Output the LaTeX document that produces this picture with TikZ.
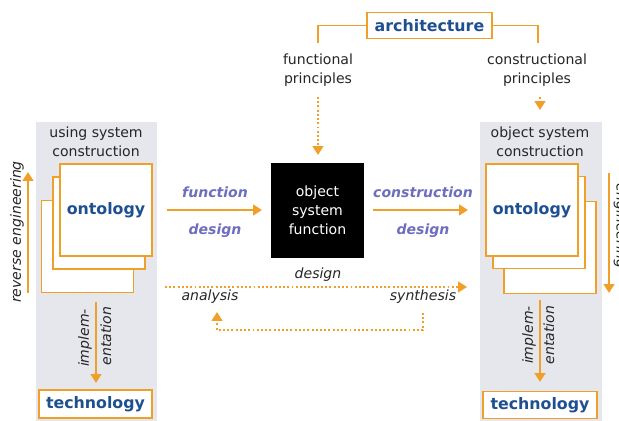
\documentclass[tikz,border=0pt]{standalone}
\usepackage{fontspec}
\setmainfont{DejaVu Sans}
\usetikzlibrary{arrows.meta, positioning}
\definecolor{orng}{RGB}{240,160,40}
\definecolor{darkblue}{RGB}{30,80,145}
\definecolor{lilac}{RGB}{110,110,190}
\definecolor{panelgray}{RGB}{229,231,237}
\tikzstyle{panel} = [fill=panelgray, inner sep=0]
\tikzstyle{sheet} = [draw=orng, fill=white, line width=0.6pt, minimum size=1.84cm, inner sep=0,
                     text=darkblue, font=\fontsize{9}{11}\selectfont\bfseries]
\tikzstyle{heading} = [draw=orng, fill=white, line width=0.8pt, inner sep=0,
                       text=darkblue, font=\fontsize{9}{11}\selectfont\bfseries]
\tikzstyle{caption} = [align=center, text=black!85, inner sep=0, font=\fontsize{8}{10.8}\selectfont]
\tikzstyle{design} = [text=lilac, inner sep=0, font=\fontsize{8}{10}\selectfont\bfseries\itshape]
\tikzstyle{verb} = [text=black!85, inner sep=0, font=\fontsize{8}{10}\selectfont\itshape]
\tikzstyle{flow} = [draw=orng, line width=1.2pt, -{Triangle[length=5pt, width=6pt]}]
\tikzstyle{dotflow} = [draw=orng, line width=1.1pt, dash pattern=on 1.1pt off 1.3pt,
                       -{Triangle[length=5pt, width=6pt]}]
\tikzstyle{link} = [draw=orng, line width=0.9pt]

\begin{document}
\begin{tikzpicture}[x=0.02cm, y=-0.02cm]
\useasboundingbox [fill=white] (0,0) rectangle (619,421);

% using system (left column)
\node (UsingPanel) [panel, minimum width=2.42cm, minimum height=6cm] at (96.5,272) {};
\node (UsingTitle) [caption] at (96,142) {using system\\construction};
\node (UsingBack) [sheet] at (87.5,246.5) {};
\node (UsingMid) [sheet] at (99,223) {};
\node (UsingFront) [sheet] at (106,210) {ontology};
\node (UsingTech) [heading, minimum width=2.26cm, minimum height=0.56cm] at (95.5,404) {technology};

\coordinate (ReverseFoot) at (28,293);
\coordinate (ReverseHead) at (28,172);
\draw [flow] (ReverseFoot) -- (ReverseHead);
\node (ReverseText) [verb, rotate=90] at (17,232) {reverse engineering};

\coordinate (UsingImplIn) at (96,302);
\coordinate (UsingImplOut) at (96,383);
\draw [flow] (UsingImplIn) -- (UsingImplOut);
\node (UsingImplA) [verb, rotate=90] at (85,338) {implem-};
\node (UsingImplB) [verb, rotate=90] at (106,336) {entation};

% object system (right column)
\node (ObjectPanel) [panel, minimum width=2.44cm, minimum height=6cm] at (541,272) {};
\node (ObjectTitle) [caption] at (540,142) {object system\\construction};
\node (ObjectBack) [sheet] at (550,247.5) {};
\node (ObjectMid) [sheet] at (539,222.5) {};
\node (ObjectFront) [sheet] at (532,210) {ontology};
\node (ObjectTech) [heading, minimum width=2.28cm, minimum height=0.54cm] at (540,405) {technology};

\coordinate (EngTop) at (609,173);
\coordinate (EngFoot) at (609,293);
\draw [flow] (EngTop) -- (EngFoot);
\node (EngText) [verb, rotate=-90] at (620.5,226) {engineering};

\coordinate (ObjectImplIn) at (540,300);
\coordinate (ObjectImplOut) at (540,382);
\draw [flow] (ObjectImplIn) -- (ObjectImplOut);
\node (ObjectImplA) [verb, rotate=90] at (529,335) {implem-};
\node (ObjectImplB) [verb, rotate=90] at (549,335) {entation};

% architecture
\node (Architecture) [heading, minimum width=2.5cm, minimum height=0.52cm] at (429.5,25.5) {architecture};
\node (FuncPrinc) [caption] at (318,70) {functional\\principles};
\node (ConsPrinc) [caption] at (537,70) {constructional\\principles};
\coordinate (FuncTop) at (318,43);
\coordinate (ConsTop) at (538,43);
\draw [link] (Architecture.west) -| (FuncTop);
\draw [link] (Architecture.east) -| (ConsTop);

% black box
\node (BlackBox) [fill=black, text=white, align=center, minimum width=1.86cm, minimum height=1.9cm,
                  inner sep=0, font=\fontsize{8}{10.8}\selectfont] at (317.5,210.5) {object\\system\\function};

\coordinate (FuncPrincOut) at (318,97);
\coordinate (BlackIn) at (318,155);
\draw [dotflow] (FuncPrincOut) -- (BlackIn);
\coordinate (ConsPrincOut) at (540,97);
\coordinate (ObjectIn) at (540,110);
\draw [dotflow] (ConsPrincOut) -- (ObjectIn);

% function and construction design
\coordinate (FuncIn) at (167,210);
\coordinate (FuncOut) at (262,210);
\draw [flow] (FuncIn) -- (FuncOut);
\node (FuncWord) [design] at (215,192) {function};
\node (FuncDesign) [design] at (215,231) {design};

\coordinate (ConsIn) at (373,210);
\coordinate (ConsOut) at (468,210);
\draw [flow] (ConsIn) -- (ConsOut);
\node (ConsWord) [design] at (423,192) {construction};
\node (ConsDesign) [design] at (423,231) {design};

% design loop
\coordinate (DesignIn) at (165,287);
\coordinate (DesignOut) at (467,287);
\draw [dotflow] (DesignIn) -- (DesignOut);
\node (DesignText) [verb] at (318,275) {design};
\node (Analysis) [verb] at (210,297) {analysis};
\node (Synthesis) [verb] at (423,297) {synthesis};

\coordinate (LoopStart) at (423,313);
\coordinate (LoopRight) at (423,330);
\coordinate (LoopLeft) at (217,330);
\coordinate (LoopEnd) at (217,312);
\draw [dotflow] (LoopStart) -- (LoopRight) -- (LoopLeft) -- (LoopEnd);
\end{tikzpicture}
\end{document}
